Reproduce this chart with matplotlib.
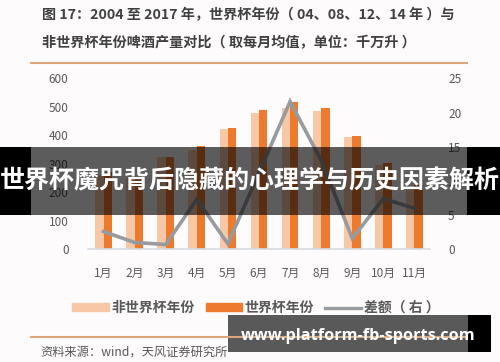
import numpy as np
import matplotlib.pyplot as plt
import matplotlib as mpl
from matplotlib.patches import Patch, Rectangle
from matplotlib.lines import Line2D

mpl.rcParams['font.family'] = ['Noto Sans CJK SC', 'DejaVu Sans']

# data (千万升, diff on right axis)
months = ['1月', '2月', '3月', '4月', '5月', '6月', '7月', '8月', '9月', '10月', '11月']
non_wc = [262, 250, 325, 348, 423, 477, 497, 486, 395, 296, 215]
wc = [270, 255, 325, 362, 426, 489, 518, 495, 399, 304, 225]
diff = [2.6, 1.0, 0.7, 7.3, 0.8, 11.2, 21.6, 13.0, 1.6, 7.4, 6.0]

title_1 = '图 17：2004 至 2017 年，世界杯年份（ 04、08、12、14 年 ）与'
title_2 = '非世界杯年份啤酒产量对比（ 取每月均值，单位：千万升 ）'
source = '资料来源：wind，天风证券研究所'
banner = '世界杯魔咒背后隐藏的心理学与历史因素解析'
watermark = 'www.platform-fb-sports.com'

light = '#f8c8a6'
dark = '#ee7a2e'
grey = '#979a9e'
txt = '#595959'
bg = '#fdfbfc'

W, H = 500, 362
fig = plt.figure(figsize=(5, 3.62), dpi=100, facecolor=bg)

def fx(px):
    return px / W

def fy(py):
    return 1 - py / H

# main axes in pixel terms
ax = fig.add_axes([fx(88), fy(249.3), fx(430) - fx(88), fy(78.3) - fy(249.3)])
ax.set_facecolor('none')
x = np.arange(len(months))
bw = 0.27
ax.bar(x - bw / 2, non_wc, bw, color=light, zorder=2)
ax.bar(x + bw / 2, wc, bw, color=dark, zorder=2)
ax.set_xlim(-0.5, len(months) - 0.5)
ax.set_ylim(0, 600)
ax.set_yticks([0, 100, 200, 300, 400, 500, 600])
ax.set_xticks(x, months)
ax.tick_params(length=0, colors=txt, labelsize=8.5)
ax.tick_params(axis='y', pad=14)
ax.tick_params(axis='x', pad=13)
for s in ['top', 'right', 'left']:
    ax.spines[s].set_visible(False)
ax.spines['bottom'].set_color('#d6dbe3')
ax.spines['bottom'].set_linewidth(1.2)

ax2 = ax.twinx()
ax2.plot(x, diff, color=grey, lw=2.6, zorder=3, solid_joinstyle='miter')
ax2.set_ylim(0, 25)
ax2.set_yticks([0, 5, 10, 15, 20, 25])
ax2.tick_params(length=0, colors=txt, labelsize=8.5, pad=13)
for s in ['top', 'right', 'left', 'bottom']:
    ax2.spines[s].set_visible(False)

# legend
handles = [Patch(color=light), Patch(color=dark), Line2D([0], [0], color=grey, lw=2.4)]
labels = ['非世界杯年份', '世界杯年份', '差额（ 右 ）']
fig.legend(handles, labels, loc='center', bbox_to_anchor=(fx(256), fy(308)), ncol=3,
           frameon=False, handlelength=2.6, handleheight=0.5, handletextpad=0.2,
           columnspacing=0.8, prop={'size': 10, 'weight': 'bold'}, labelcolor=txt)

# title and rules
fig.text(fx(42), fy(15), title_1, fontsize=10.2, fontweight='bold', color='#404040', va='center')
fig.text(fx(42), fy(43), title_2, fontsize=10.2, fontweight='bold', color='#404040', va='center')
fig.add_artist(Line2D([fx(31), fx(467)], [fy(63), fy(63)], color='#dca77d', lw=1.5))
fig.add_artist(Line2D([fx(31), fx(467)], [fy(337), fy(337)], color='#dca77d', lw=1.5))
fig.text(fx(40), fy(352), source, fontsize=8.8, color=txt, va='center')

# banner overlay
fig.add_artist(Rectangle((0, fy(215)), fx(31), fy(147) - fy(215), color='black', lw=0))
fig.add_artist(Rectangle((fx(467), fy(215)), fx(33), fy(147) - fy(215), color='black', lw=0))
fig.add_artist(Rectangle((fx(31), fy(215)), fx(436), fy(147) - fy(215), color='black',
                         alpha=0.63, lw=0))
fig.text(0.5, fy(181), banner, fontsize=18, fontweight='bold', color='white',
         ha='center', va='center')

# watermark box
fig.add_artist(Rectangle((fx(228), fy(352)), fx(240), fy(315) - fy(352), color='#595959', lw=0))
fig.add_artist(Rectangle((fx(468), fy(352)), fx(23), fy(315) - fy(352), color='black', lw=0))
fig.text(fx(358), fy(336), watermark, fontsize=11.7, fontweight='bold', color='white',
         ha='center', va='center', family='Open Sans')

fig.savefig('out.png', dpi=100, facecolor=bg)
